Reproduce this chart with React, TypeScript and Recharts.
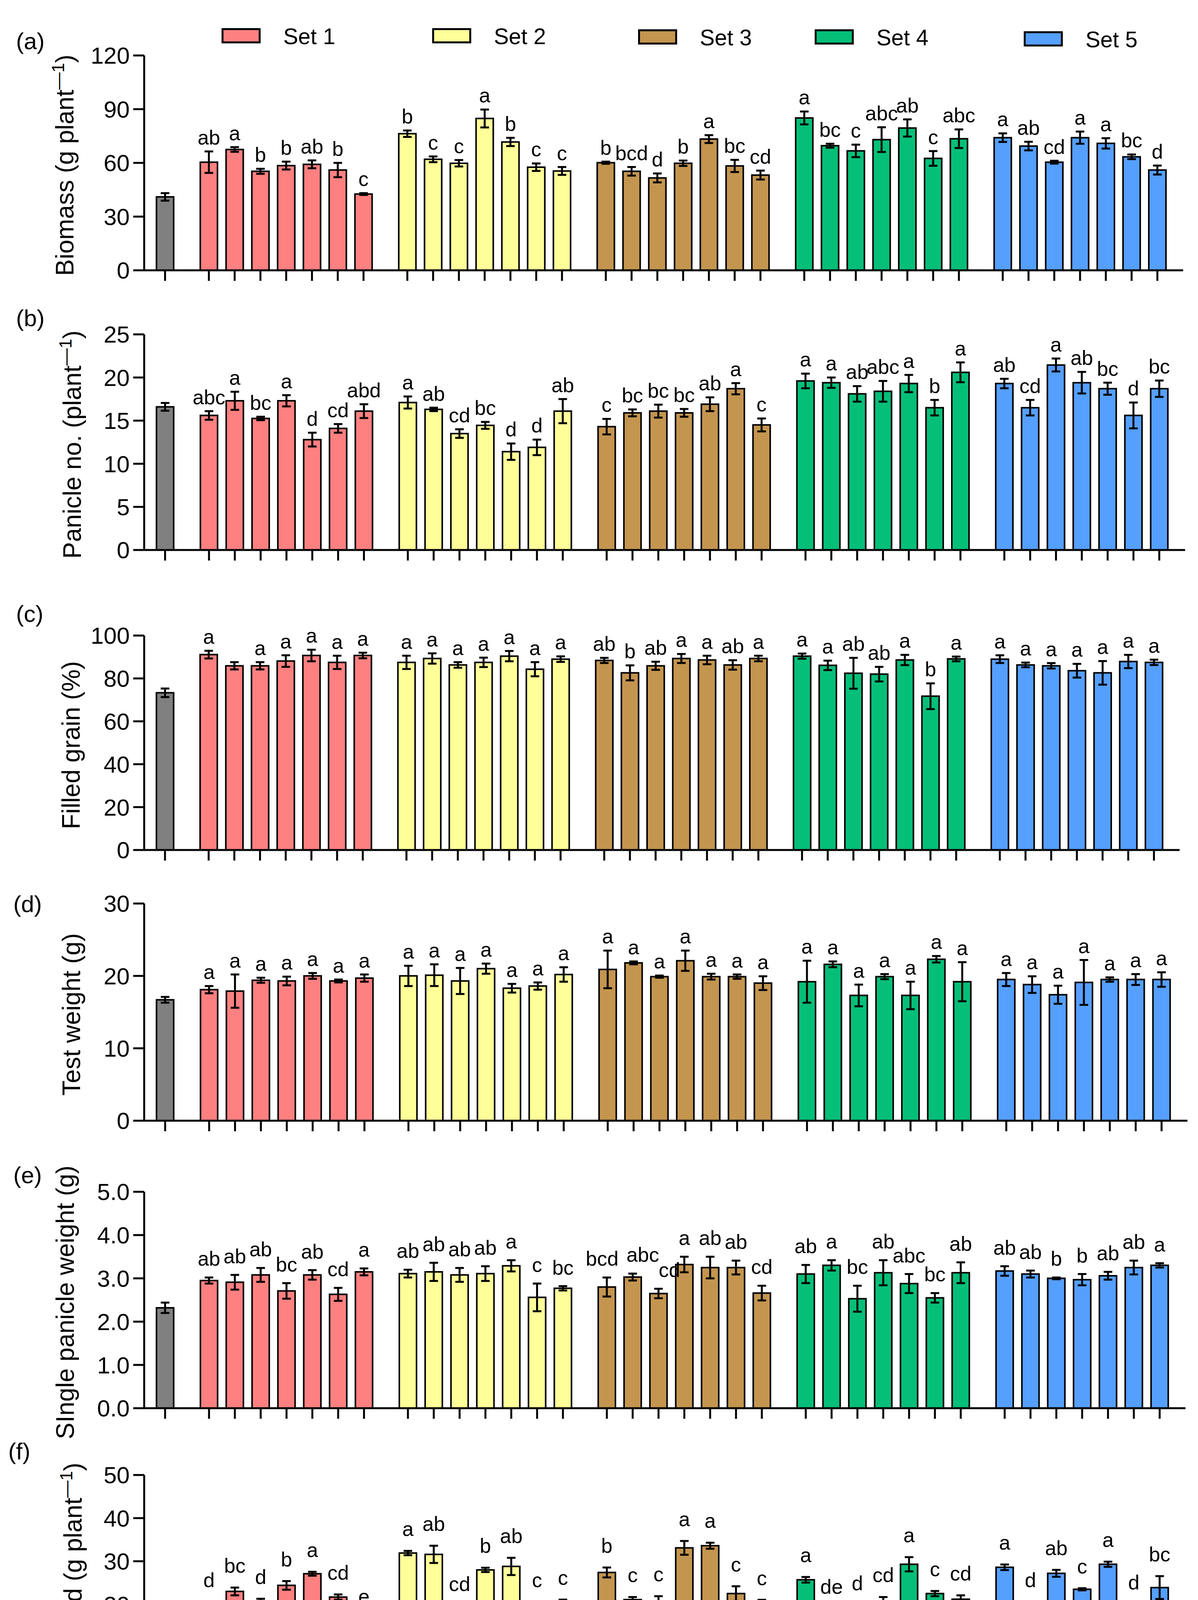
import React from "react";
import { Bar, BarChart, Cell, ErrorBar, LabelList, XAxis, YAxis } from "recharts";

const FONT = '"Liberation Sans", Arial, Helvetica, sans-serif';
const PAGE_W = 3066;
const PAGE_H = 4670;

// ---- categories ----
const controlName = "Control";
const sets = ["Set 1", "Set 2", "Set 3", "Set 4", "Set 5"];
const treatments = ["Fe-Cit 2", "Fe-Cit 4", "Fe- EDTA 2", "FeP 4", "HA + Fe", "Nano Fe 2", "Nano Fe 4"];
const controlColor = "#808080";
const setColors = ["#FF8080", "#FFFF99", "#C4954F", "#05BF78", "#559FFF"];

// ---- (a) biomass ----
const biomass = [41.0, 60.4, 67.5, 55.3, 58.5, 59.2, 56.0, 42.6, 76.3, 62.0, 59.8, 84.8, 71.7, 57.6, 55.5, 60.1, 55.3, 51.6, 59.8, 73.3, 58.3, 53.2, 85.1, 69.6, 66.7, 73.0, 79.5, 62.5, 73.5, 74.1, 69.4, 60.4, 74.1, 70.9, 63.4, 56.0];
const biomassErr = [2.1, 6.0, 1.3, 1.4, 2.2, 2.2, 4.0, 0.5, 1.8, 1.6, 1.8, 5.0, 2.3, 2.1, 2.2, 0.6, 2.4, 2.5, 1.5, 2.2, 3.4, 2.5, 3.6, 1.1, 3.5, 6.9, 4.8, 4.1, 5.2, 2.4, 2.4, 0.8, 3.4, 2.9, 1.3, 2.5];
const biomassLetters = ["", "ab", "a", "b", "b", "ab", "b", "c", "b", "c", "c", "a", "b", "c", "c", "b", "bcd", "d", "b", "a", "bc", "cd", "a", "bc", "c", "abc", "ab", "c", "abc", "a", "ab", "cd", "a", "a", "bc", "d"];

// ---- (b) panicle number ----
const panicle = [16.6, 15.6, 17.3, 15.25, 17.3, 12.8, 14.1, 16.1, 17.1, 16.3, 13.5, 14.45, 11.4, 11.9, 16.1, 14.3, 15.9, 16.1, 15.9, 16.9, 18.7, 14.5, 19.6, 19.4, 18.1, 18.4, 19.3, 16.5, 20.6, 19.3, 16.5, 21.45, 19.4, 18.7, 15.6, 18.7];
const panicleErr = [0.45, 0.5, 1.05, 0.2, 0.65, 0.8, 0.5, 0.8, 0.7, 0.2, 0.5, 0.4, 0.95, 0.9, 1.4, 0.9, 0.4, 0.75, 0.45, 0.8, 0.65, 0.75, 0.85, 0.6, 0.9, 1.2, 1.0, 0.9, 1.15, 0.55, 0.9, 0.75, 1.25, 0.7, 1.5, 0.95];
const panicleLetters = ["", "abc", "a", "bc", "a", "d", "cd", "abd", "a", "ab", "cd", "bc", "d", "d", "ab", "c", "bc", "bc", "bc", "ab", "a", "c", "a", "a", "ab", "abc", "a", "b", "a", "ab", "cd", "a", "ab", "bc", "d", "bc"];

// ---- (c) filled grain ----
const filled = [73.3, 91.1, 85.9, 85.9, 88.1, 90.7, 87.5, 90.7, 87.5, 89.3, 86.3, 87.5, 90.4, 84.3, 89.0, 88.4, 82.6, 85.9, 89.3, 88.6, 86.3, 89.3, 90.4, 86.1, 82.4, 82.0, 88.6, 71.7, 89.1, 89.0, 86.3, 85.9, 83.6, 82.6, 87.9, 87.5];
const filledErr = [2.0, 1.8, 1.7, 1.7, 2.7, 2.7, 3.1, 1.3, 3.1, 2.4, 1.3, 2.2, 2.4, 3.3, 1.3, 1.2, 3.5, 1.9, 2.1, 2.0, 2.2, 1.3, 1.2, 2.2, 7.2, 3.4, 2.4, 6.0, 1.1, 1.8, 1.1, 1.25, 3.2, 5.5, 3.1, 1.25];
const filledLetters = ["", "a", "", "a", "a", "a", "a", "a", "a", "a", "a", "a", "a", "a", "a", "ab", "b", "ab", "a", "a", "ab", "a", "a", "a", "ab", "ab", "a", "b", "a", "a", "a", "a", "a", "a", "a", "a"];

// ---- (d) test weight ----
const testWeight = [16.7, 18.1, 17.9, 19.4, 19.3, 20.0, 19.3, 19.7, 20.0, 20.1, 19.3, 21.0, 18.3, 18.6, 20.2, 20.9, 21.8, 19.9, 22.1, 19.9, 19.9, 19.0, 19.2, 21.6, 17.3, 19.9, 17.3, 22.3, 19.2, 19.5, 18.8, 17.4, 19.1, 19.5, 19.5, 19.5];
const testWeightErr = [0.4, 0.5, 2.3, 0.35, 0.6, 0.4, 0.2, 0.5, 1.4, 1.5, 1.8, 0.7, 0.6, 0.5, 1.0, 2.6, 0.2, 0.15, 1.4, 0.4, 0.3, 0.95, 2.9, 0.4, 1.5, 0.35, 1.9, 0.45, 2.7, 0.9, 1.15, 1.25, 3.1, 0.3, 0.75, 1.0];
const testWeightLetters = ["", "a", "a", "a", "a", "a", "a", "a", "a", "a", "a", "a", "a", "a", "a", "a", "a", "a", "a", "a", "a", "a", "a", "a", "a", "a", "a", "a", "a", "a", "a", "a", "a", "a", "a", "a"];

// ---- (e) single panicle weight ----
const panicleWeight = [2.32, 2.95, 2.91, 3.08, 2.71, 3.08, 2.63, 3.15, 3.11, 3.15, 3.08, 3.11, 3.29, 2.56, 2.77, 2.8, 3.03, 2.65, 3.32, 3.25, 3.25, 2.66, 3.1, 3.3, 2.53, 3.13, 2.88, 2.55, 3.13, 3.17, 3.1, 3.0, 2.97, 3.06, 3.25, 3.3];
const panicleWeightErr = [0.12, 0.07, 0.17, 0.16, 0.18, 0.11, 0.15, 0.08, 0.09, 0.21, 0.16, 0.17, 0.13, 0.32, 0.05, 0.22, 0.08, 0.11, 0.18, 0.25, 0.16, 0.17, 0.21, 0.12, 0.3, 0.29, 0.22, 0.11, 0.24, 0.11, 0.08, 0.02, 0.13, 0.09, 0.16, 0.05];
const panicleWeightLetters = ["", "ab", "ab", "ab", "bc", "ab", "cd", "a", "ab", "ab", "ab", "ab", "a", "c", "bc", "bcd", "abc", "cd", "a", "ab", "ab", "cd", "ab", "a", "bc", "ab", "abc", "bc", "ab", "ab", "ab", "b", "b", "ab", "ab", "a"];

// ---- (f) grain yield ----
const grainYield = [16.0, 20.2, 23.0, 20.5, 24.4, 27.1, 21.7, 16.3, 31.9, 31.6, 18.6, 28.0, 28.8, 19.9, 20.6, 27.4, 21.1, 20.5, 33.1, 33.6, 22.5, 20.5, 25.7, 18.4, 19.1, 20.7, 29.3, 22.5, 21.2, 28.6, 19.5, 27.2, 23.5, 29.3, 18.9, 23.9];
const grainYieldErr = [1.1, 0.35, 0.9, 0.8, 1.0, 0.45, 0.6, 0.5, 0.5, 2.0, 1.1, 0.5, 2.0, 0.7, 0.5, 1.15, 0.6, 1.4, 1.6, 0.7, 1.7, 0.55, 0.65, 0.65, 0.7, 1.0, 1.65, 0.6, 0.9, 0.65, 1.05, 0.8, 0.25, 0.6, 1.1, 2.65];
const grainYieldLetters = ["", "d", "bc", "d", "b", "a", "cd", "e", "a", "ab", "cd", "b", "ab", "c", "c", "b", "c", "c", "a", "a", "c", "c", "a", "de", "d", "cd", "a", "c", "cd", "a", "d", "ab", "c", "a", "d", "bc"];

// ---- layout ----
const AXIS_X = 369;
const MARGIN_TOP = 60;
const GROUP_GAP = 0.7;
const X_DOMAIN: [number, number] = [-0.81, 39.5];

const positions = [
  0,
  ...sets.flatMap((_, g) => treatments.map((_, i) => 1 + GROUP_GAP + g * (treatments.length + GROUP_GAP) + i)),
];
const barColors = [controlColor, ...sets.flatMap((_, g) => treatments.map(() => setColors[g]))];
const tickNames = [controlName, ...sets.flatMap(() => treatments)];

interface PanelCfg {
  tag: string;
  title: string;
  sup?: string;
  values: number[];
  errors: number[];
  letters: string[];
  max: number;
  ticks: number[];
  decimals: number;
  top: number;
  bottom: number;
  right: number;
  gap: number;
  titleX: number;
  tagX: number;
  tagY: number;
  nudge?: Record<number, number>;
}

const panels: PanelCfg[] = [
  { tag: "(a)", title: "Biomass (g plant", sup: "\u20141", values: biomass, errors: biomassErr, letters: biomassLetters, max: 120, ticks: [0, 30, 60, 90, 120], decimals: 0, top: 142, bottom: 692, right: 3028, gap: 18, titleX: 188, tagX: 41, tagY: 126 },
  { tag: "(b)", title: "Panicle no. (plant", sup: "\u20141", values: panicle, errors: panicleErr, letters: panicleLetters, max: 25, ticks: [0, 5, 10, 15, 20, 25], decimals: 0, top: 856, bottom: 1408, right: 3033, gap: 18, titleX: 207, tagX: 41, tagY: 835 },
  { tag: "(c)", title: "Filled grain (%)", values: filled, errors: filledErr, letters: filledLetters, max: 100, ticks: [0, 20, 40, 60, 80, 100], decimals: 0, top: 1627, bottom: 2176, right: 3019, gap: 18, titleX: 204, tagX: 41, tagY: 1592 },
  { tag: "(d)", title: "Test weight (g)", values: testWeight, errors: testWeightErr, letters: testWeightLetters, max: 30, ticks: [0, 10, 20, 30], decimals: 0, top: 2313, bottom: 2869, right: 3039, gap: 18, titleX: 205, tagX: 34, tagY: 2335 },
  { tag: "(e)", title: "SIngle panicle weight (g)", values: panicleWeight, errors: panicleWeightErr, letters: panicleWeightLetters, max: 5, ticks: [0, 1, 2, 3, 4, 5], decimals: 1, top: 3051, bottom: 3605, right: 3034, gap: 30, titleX: 189, tagX: 34, tagY: 3029, nudge: { 15: -12, 16: 26, 17: 28 } },
  { tag: "(f)", title: "Grain yield (g plant", sup: "\u20141", values: grainYield, errors: grainYieldErr, letters: grainYieldLetters, max: 50, ticks: [0, 10, 20, 30, 40, 50], decimals: 0, top: 3776, bottom: 4328, right: 3034, gap: 38, titleX: 209, tagX: 21, tagY: 3736 },
];

const legendLayout = [
  { box: 567, y: 72 },
  { box: 1106, y: 72 },
  { box: 1633, y: 75 },
  { box: 2085, y: 75 },
  { box: 2620, y: 80 },
];

const nameAt = (v: number) => {
  let best = 0;
  positions.forEach((p, i) => {
    if (Math.abs(p - v) < Math.abs(positions[best] - v)) best = i;
  });
  return tickNames[best];
};

const NameTick = (props: any) => {
  const { x, y, payload } = props;
  const ty = y + 18;
  return (
    <text
      x={x}
      y={ty}
      dy="0.35em"
      transform={`rotate(-90, ${x}, ${ty})`}
      textAnchor="end"
      fontSize={52}
      fontFamily={FONT}
      fill="#000"
    >
      {nameAt(payload.value)}
    </text>
  );
};

const EmptyTick = () => <g />;

function Panel({ cfg, showNames }: { cfg: PanelCfg; showNames: boolean }) {
  const plotH = cfg.bottom - cfg.top;
  const axisH = showNames ? 330 : 40;
  const height = MARGIN_TOP + plotH + axisH;
  const pxPerUnit = plotH / cfg.max;
  const rows = positions.map((pos, i) => ({
    pos,
    value: cfg.values[i],
    err: cfg.errors[i],
    letter: cfg.letters[i],
  }));

  const renderLetter = (props: any) => {
    const { index, value } = props;
    if (!value) return null;
    const vb = props.viewBox ?? {};
    const bx = props.x ?? vb.x;
    const bw = props.width ?? vb.width;
    const by = props.y ?? vb.y;
    const ty = by - cfg.errors[index] * pxPerUnit - cfg.gap;
    const dx = cfg.nudge?.[index] ?? 0;
    return (
      <text x={bx + bw / 2 + dx} y={ty} textAnchor="middle" fontSize={52} fontFamily={FONT} fill="#000">
        {value}
      </text>
    );
  };

  return (
    <div style={{ position: "absolute", left: 0, top: cfg.top - MARGIN_TOP }}>
      <BarChart
        width={PAGE_W}
        height={height}
        data={rows}
        margin={{ top: MARGIN_TOP, right: PAGE_W - cfg.right, bottom: 0, left: 0 }}
      >
        <XAxis
          dataKey="pos"
          type="number"
          domain={X_DOMAIN}
          ticks={positions}
          interval={0}
          allowDataOverflow
          height={axisH}
          axisLine={{ stroke: "#000", strokeWidth: 5 }}
          tickLine={{ stroke: "#000", strokeWidth: 5 }}
          tickSize={27}
          tick={showNames ? <NameTick /> : <EmptyTick />}
        />
        <YAxis
          type="number"
          domain={[0, cfg.max]}
          ticks={cfg.ticks}
          interval={0}
          width={AXIS_X}
          axisLine={{ stroke: "#000", strokeWidth: 5 }}
          tickLine={{ stroke: "#000", strokeWidth: 5 }}
          tickSize={28}
          tickMargin={9}
          tick={{ fill: "#000", fontSize: 60, fontFamily: FONT }}
          tickFormatter={(v: number) => v.toFixed(cfg.decimals)}
        />
        <Bar dataKey="value" barSize={44} stroke="#000" strokeWidth={4} isAnimationActive={false}>
          {rows.map((_, i) => (
            <Cell key={i} fill={barColors[i]} />
          ))}
          <ErrorBar dataKey="err" width={11} strokeWidth={5} stroke="#000" direction="y" isAnimationActive={false} />
          <LabelList dataKey="letter" content={renderLetter} />
        </Bar>
      </BarChart>
    </div>
  );
}

function AxisTitle({ cfg }: { cfg: PanelCfg }) {
  const cy = (cfg.top + cfg.bottom) / 2 + 6;
  return (
    <text
      x={cfg.titleX}
      y={cy}
      transform={`rotate(-90, ${cfg.titleX}, ${cy})`}
      textAnchor="middle"
      fontSize={64}
      fontFamily={FONT}
      fill="#000"
    >
      <tspan>{cfg.title}</tspan>
      {cfg.sup && (
        <>
          <tspan dy={-24} fontSize={44}>
            {cfg.sup}
          </tspan>
          <tspan dy={24}>)</tspan>
        </>
      )}
    </text>
  );
}

export default function App() {
  return (
    <div
      style={{
        position: "relative",
        margin: -8,
        width: PAGE_W,
        height: PAGE_H,
        background: "#fff",
        fontFamily: FONT,
        overflow: "hidden",
      }}
    >
      {panels.map((cfg, i) => (
        <Panel key={cfg.tag} cfg={cfg} showNames={i === panels.length - 1} />
      ))}
      <svg width={PAGE_W} height={PAGE_H} style={{ position: "absolute", left: 0, top: 0, pointerEvents: "none" }}>
        {panels.map((cfg) => (
          <g key={cfg.tag}>
            <text x={cfg.tagX} y={cfg.tagY} fontSize={60} fontFamily={FONT} fill="#000">
              {cfg.tag}
            </text>
            <AxisTitle cfg={cfg} />
          </g>
        ))}
        {sets.map((name, g) => (
          <g key={name}>
            <rect
              x={legendLayout[g].box + 2.5}
              y={legendLayout[g].y + 2.5}
              width={95}
              height={34}
              fill={setColors[g]}
              stroke="#000"
              strokeWidth={5}
            />
            <text x={legendLayout[g].box + 158} y={legendLayout[g].y + 41} fontSize={57} fontFamily={FONT} fill="#000">
              {name}
            </text>
          </g>
        ))}
      </svg>
    </div>
  );
}
